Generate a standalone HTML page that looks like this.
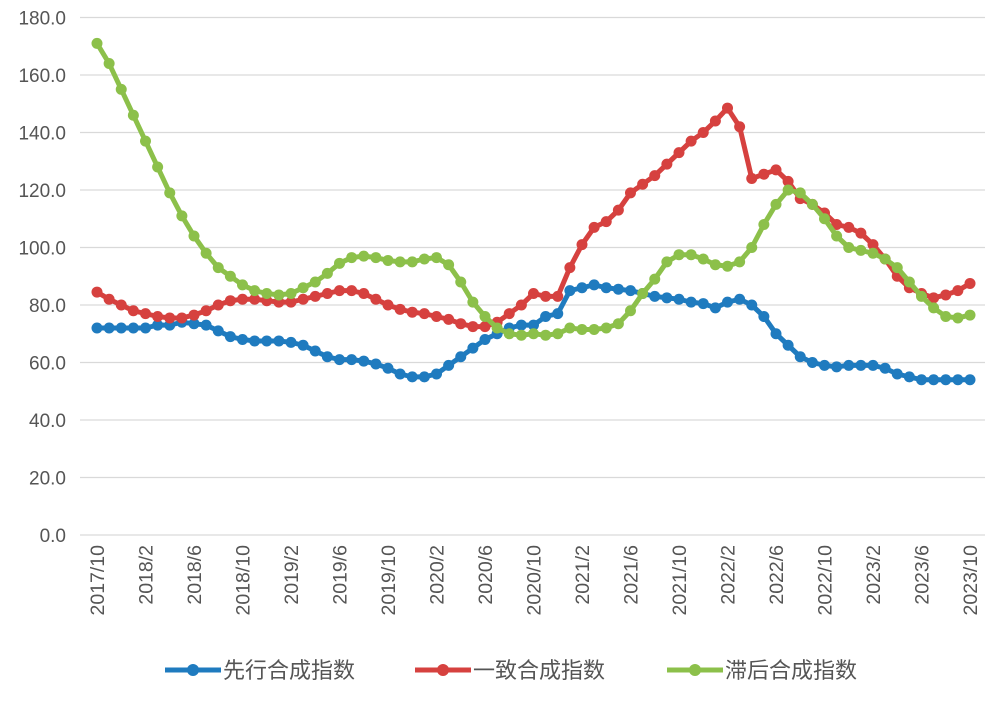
<!DOCTYPE html>
<html><head><meta charset="utf-8"><style>
body{margin:0;background:#fff}
svg text{font-family:"Liberation Sans","Noto Sans CJK SC",sans-serif;fill:#555}
</style></head><body>
<svg id="c" width="1000" height="696" viewBox="0 0 1000 696" xmlns="http://www.w3.org/2000/svg"></svg>
<script>
const S=document.getElementById('c'),NS='http://www.w3.org/2000/svg';
function el(t,a,txt){const e=document.createElementNS(NS,t);for(const k in a)e.setAttribute(k,a[k]);if(txt!=null)e.textContent=txt;S.appendChild(e);return e;}
const y0=535,dy=57.5/20,x0=97,dx=(970-97)/72;
const Y=v=>y0-v*dy,X=i=>x0+i*dx;
for(let v=0;v<=180;v+=20){const y=Y(v);el('line',{x1:80,x2:985,y1:y,y2:y,stroke:'#d9d9d9','stroke-width':1.3});
el('text',{x:66,y:y+7,'text-anchor':'end','font-size':19},v.toFixed(1));}
const labs=['2017/10','2018/2','2018/6','2018/10','2019/2','2019/6','2019/10','2020/2','2020/6','2020/10','2021/2','2021/6','2021/10','2022/2','2022/6','2022/10','2023/2','2023/6','2023/10'];
labs.forEach((l,k)=>{const x=X(k*4)+7;el('text',{x:x,y:545,'text-anchor':'end','font-size':19.5,transform:`rotate(-90 ${x} 545)`},l);});
const blue=[72,72,72,72,72,73,73,74,73.5,73,71,69,68,67.5,67.5,67.5,67,66,64,62,61,61,60.5,59.5,58,56,55,55,56,59,62,65,68,70,72,73,73,76,77,85,86,87,86,85.5,85,84,83,82.5,82,81,80.5,79,81,82,80,76,70,66,62,60,59,58.5,59,59,59,58,56,55,54,54,54,54,54];
const red=[84.5,82,80,78,77,76,75.5,75.5,76.5,78,80,81.5,82,82,81.5,81,81,82,83,84,85,85,84,82,80,78.5,77.5,77,76,75,73.5,72.5,72.5,74,77,80,84,83,83,93,101,107,109,113,119,122,125,129,133,137,140,144,148.5,142,124,125.5,127,123,117,115,112,108,107,105,101,96,90,86,84,82.5,83.5,85,87.5];
const green=[171,164,155,146,137,128,119,111,104,98,93,90,87,85,84,83.5,84,86,88,91,94.5,96.5,97,96.5,95.5,95,95,96,96.5,94,88,81,76,72,70,69.5,70,69.5,70,72,71.5,71.5,72,73.5,78,84,89,95,97.5,97.5,96,94,93.5,95,100,108,115,120,119,115,110,104,100,99,98,96,93,88,83,79,76,75.5,76.5];
function series(d,c){el('polyline',{points:d.map((v,i)=>X(i)+','+Y(v)).join(' '),fill:'none',stroke:c,'stroke-width':5,'stroke-linejoin':'round'});
d.forEach((v,i)=>el('circle',{cx:X(i),cy:Y(v),r:5.5,fill:c}));}
series(blue,'#1f7bbf');series(red,'#d6413f');series(green,'#8cc04a');
[[165,'#1f7bbf','先行合成指数'],[415,'#d6413f','一致合成指数'],[667,'#8cc04a','滞后合成指数']].forEach(([x,c,t])=>{
el('line',{x1:x,x2:x+56,y1:670,y2:670,stroke:c,'stroke-width':5});el('circle',{cx:x+28,cy:670,r:6,fill:c});
el('text',{x:x+58,y:678,'font-size':22,fill:'#444'},t);});
</script>
</body></html>
